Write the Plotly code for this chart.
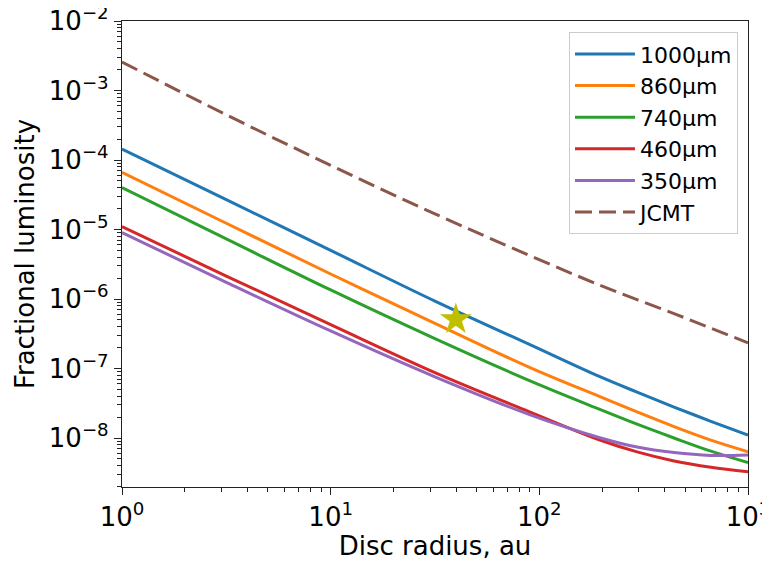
import plotly.graph_objects as go

# disc radius (au)
radius = [1, 3.16, 10, 31.6, 89.1, 195, 294, 442, 664, 1000]

# fractional luminosity per band
lum_1000 = [1.44e-4, 2.69e-5, 5.01e-6, 9.33e-7, 2.24e-7, 7.62e-8, 4.57e-8, 2.79e-8, 1.74e-8, 1.10e-8]
lum_860 = [6.64e-5, 1.23e-5, 2.29e-6, 4.47e-7, 1.05e-7, 3.94e-8, 2.37e-8, 1.46e-8, 9.33e-9, 6.35e-9]
lum_740 = [4.00e-5, 7.33e-6, 1.35e-6, 2.69e-7, 6.76e-8, 2.58e-8, 1.58e-8, 1.00e-8, 6.46e-9, 4.42e-9]
lum_460 = [1.10e-5, 2.14e-6, 4.27e-7, 8.71e-8, 2.40e-8, 9.35e-9, 6.31e-9, 4.68e-9, 3.80e-9, 3.27e-9]
lum_350 = [9.00e-6, 1.74e-6, 3.47e-7, 7.59e-8, 2.19e-8, 1.01e-8, 7.41e-9, 6.17e-9, 5.62e-9, 5.69e-9]
lum_jcmt = [2.57e-3, 4.47e-4, 8.39e-5, 1.68e-5, 4.27e-6, 1.58e-6, 9.77e-7, 6.17e-7, 3.80e-7, 2.34e-7]

# observed source
star_r = [39.8]
star_f = [5.1e-7]

x_ticks = [1, 10, 100, 1000]
x_labels = ['10<sup>0</sup>', '10<sup>1</sup>', '10<sup>2</sup>', '10<sup>3</sup>']
y_ticks = [1e-8, 1e-7, 1e-6, 1e-5, 1e-4, 1e-3, 1e-2]
y_labels = ['10<sup>\u22128</sup>', '10<sup>\u22127</sup>', '10<sup>\u22126</sup>', '10<sup>\u22125</sup>',
            '10<sup>\u22124</sup>', '10<sup>\u22123</sup>', '10<sup>\u22122</sup>']

series = [
    ('1000\u00b5m', lum_1000, '#1f77b4', 'solid'),
    ('860\u00b5m', lum_860, '#ff7f0e', 'solid'),
    ('740\u00b5m', lum_740, '#2ca02c', 'solid'),
    ('460\u00b5m', lum_460, '#d62728', 'solid'),
    ('350\u00b5m', lum_350, '#9467bd', 'solid'),
    ('JCMT', lum_jcmt, '#8c564b', '17px,7px'),
]

fig = go.Figure()
for name, vals, col, dash in series:
    fig.add_trace(go.Scatter(x=radius, y=vals, name=name, mode='lines',
                             line=dict(color=col, width=3, dash=dash, shape='spline', smoothing=1.0)))

fig.add_trace(go.Scatter(x=star_r, y=star_f, mode='markers', showlegend=False,
                         marker=dict(symbol='star', size=24, color='#bfbf00',
                                     line=dict(width=0))))

axis_style = dict(showline=True, linecolor='#222', linewidth=1.2, mirror=True,
                  ticks='outside', ticklen=7, tickwidth=1.2, tickcolor='#222',
                  showgrid=False, zeroline=False, automargin=False,
                  ticklabeloverflow='allow',
                  tickfont=dict(size=26, color='black'))

fig.update_xaxes(type='log', range=[0, 3], tickmode='array', tickvals=x_ticks, ticktext=x_labels,
                 title=dict(text='Disc radius, au', font=dict(size=26, color='black'), standoff=4),
                 minor=dict(ticks='outside', ticklen=4, tickwidth=1, tickcolor='#222', dtick='D1'),
                 **axis_style)
fig.update_yaxes(type='log', range=[-8.705, -2], tickmode='array', tickvals=y_ticks, ticktext=y_labels,
                 title=dict(text='Fractional luminosity', font=dict(size=26, color='black'), standoff=6),
                 minor=dict(ticks='outside', ticklen=4, tickwidth=1, tickcolor='#222', dtick='D1'),
                 **axis_style)

# page body adds 8px around the figure, so size it a bit smaller
fig.update_layout(
    width=762, height=553,
    margin=dict(l=114, r=22, t=13, b=74),
    plot_bgcolor='white', paper_bgcolor='white',
    font=dict(family='DejaVu Sans', color='black'),
    legend=dict(x=0.984, y=0.976, xanchor='right', yanchor='top',
                bgcolor='rgba(255,255,255,0.8)', bordercolor='#cccccc', borderwidth=1,
                font=dict(size=22), tracegroupgap=0, itemwidth=60),
)

fig.write_html("out.html")
